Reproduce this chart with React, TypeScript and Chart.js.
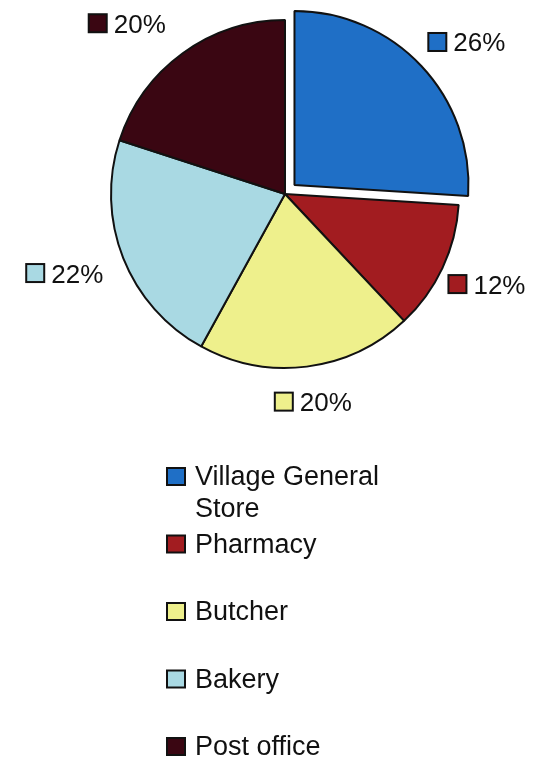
import React, { useEffect, useRef } from 'react';
import { Chart, registerables } from 'chart.js';
Chart.register(...registerables);

const categories = ['Village General Store', 'Pharmacy', 'Butcher', 'Bakery', 'Post office'];
const shares = [26, 12, 20, 22, 20];
const colors = ['#1f6fc6', '#a21c20', '#eef08c', '#a9d9e3', '#3a0612'];
const explode = [52, 0, 0, 0, 0];
// label box placement relative to the arc's outer edge at its mid angle
const labelNudges = [[7, -24], [6, 16], [-32, 35], [-97, 15], [-94, -30]];

const FONT = '"Liberation Sans", Arial, sans-serif';

const labelPlugin = {
  id: 'pieLabelsAndLegend',
  afterDraw(chart: any) {
    const ctx = chart.ctx as CanvasRenderingContext2D;
    const meta = chart.getDatasetMeta(0);
    ctx.save();
    // data labels
    ctx.font = `26px ${FONT}`;
    ctx.textAlign = 'left';
    ctx.textBaseline = 'alphabetic';
    meta.data.forEach((arc: any, i: number) => {
      const p = arc.getProps(['x', 'y', 'startAngle', 'endAngle', 'outerRadius'], true);
      const mid = (p.startAngle + p.endAngle) / 2;
      const off = (arc.options.offset || 0) / 4;
      const px = p.x + Math.cos(mid) * (p.outerRadius + off);
      const py = p.y + Math.sin(mid) * (p.outerRadius + off);
      const left = px + labelNudges[i][0];
      const cy = py + labelNudges[i][1];
      ctx.fillStyle = colors[i];
      ctx.fillRect(left, cy - 9, 18, 18);
      ctx.strokeStyle = '#111';
      ctx.lineWidth = 2;
      ctx.strokeRect(left, cy - 9, 18, 18);
      ctx.fillStyle = '#111';
      ctx.fillText(`${shares[i]}%`, left + 25, cy + 9.5);
    });
    // legend
    ctx.font = `27px ${FONT}`;
    const swX = 167;
    const textX = 195;
    const maxW = 200;
    categories.forEach((name, i) => {
      const base = 485 + i * 67.5;
      ctx.fillStyle = colors[i];
      ctx.fillRect(swX, base - 17, 18, 17);
      ctx.strokeStyle = '#111';
      ctx.lineWidth = 2;
      ctx.strokeRect(swX, base - 17, 18, 17);
      // wrap
      const words = name.split(' ');
      const lines: string[] = [];
      let cur = '';
      words.forEach((w) => {
        const t = cur ? cur + ' ' + w : w;
        if (ctx.measureText(t).width > maxW && cur) {
          lines.push(cur);
          cur = w;
        } else cur = t;
      });
      if (cur) lines.push(cur);
      ctx.fillStyle = '#111';
      lines.forEach((ln, j) => ctx.fillText(ln, textX, base + j * 32));
    });
    ctx.restore();
  },
};

export default function App() {
  const ref = useRef<HTMLCanvasElement | null>(null);
  useEffect(() => {
    if (!ref.current) return;
    const chart = new Chart(ref.current, {
      type: 'pie',
      data: {
        labels: categories,
        datasets: [
          {
            data: shares,
            backgroundColor: colors,
            borderColor: '#111',
            borderWidth: 2,
            offset: explode,
          } as any,
        ],
      },
      options: {
        responsive: false,
        animation: false,
        devicePixelRatio: 1,
        radius: 174,
        layout: { padding: { left: 30, right: 0, top: 0, bottom: 378 } },
        plugins: {
          legend: { display: false },
          tooltip: { enabled: false },
        },
      } as any,
      plugins: [labelPlugin],
    });
    return () => chart.destroy();
  }, []);
  return (
    <div style={{ position: 'absolute', left: 0, top: 0, width: 540, height: 766, background: '#fff' }}>
      <canvas ref={ref} width={540} height={766} style={{ display: 'block' }} />
    </div>
  );
}
